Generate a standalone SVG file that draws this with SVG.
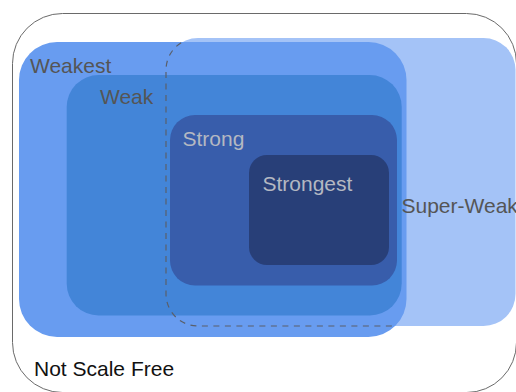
<svg xmlns="http://www.w3.org/2000/svg" width="516" height="392" viewBox="0 0 516 392">
<style>
text{font-family:"Liberation Sans",Arial,sans-serif;font-size:21px}
.dark{fill:#555}
.light{fill:#b4b8c2}
</style>
<defs>
<clipPath id="clipWeakest"><rect x="19" y="42" width="387.5" height="295" rx="38"/></clipPath>
</defs>
<g id="notScaleFree">
<rect x="12.5" y="13.5" width="504" height="379" rx="50" fill="#fff" stroke="#6a6a6a" stroke-width="1"/>
<text x="34" y="376" fill="#111">Not Scale Free</text>
</g>
<g id="superWeak">
<rect x="166" y="38" width="349.5" height="288" rx="32" fill="#a4c3f7"/>
</g>
<g id="weakest">
<rect x="19" y="42" width="387.5" height="295" rx="38" fill="#689cf0"/>
</g>
<g id="weak">
<rect x="66.7" y="75" width="335" height="240.5" rx="32" fill="#4385d8"/>
</g>
<g id="strong">
<rect x="170" y="115" width="227" height="170.5" rx="25" fill="#385dab"/>
</g>
<g id="strongest">
<rect x="249" y="155" width="140" height="110" rx="18" fill="#283f78"/>
</g>
<g id="connectors">
<rect x="166" y="38" width="349.5" height="288" rx="32" fill="none" stroke="#5a5f6a" stroke-width="1.2" stroke-dasharray="6 5.5" clip-path="url(#clipWeakest)"/>
</g>
<g id="labels">
<text x="30" y="72.5" class="dark">Weakest</text>
<text x="100" y="103.5" class="dark">Weak</text>
<text x="182.5" y="146" class="light">Strong</text>
<text x="262.5" y="191" class="light">Strongest</text>
<text x="401.5" y="212.5" class="dark">Super-Weak</text>
</g>
</svg>
